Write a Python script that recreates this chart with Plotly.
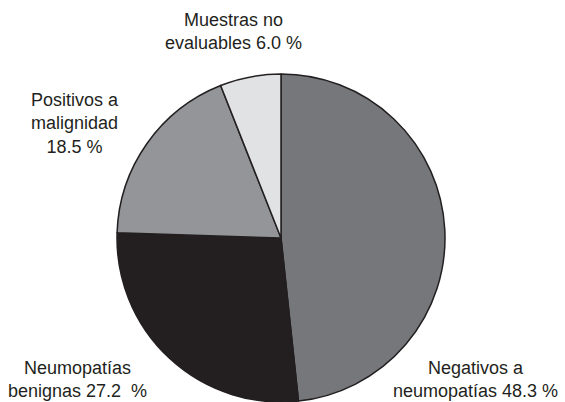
import plotly.graph_objects as go

# Diagnostic outcome shares (%)
categories = ["Negativos a neumopatías", "Neumopatías benignas",
              "Positivos a malignidad", "Muestras no evaluables"]
shares = [48.3, 27.2, 18.5, 6.0]
label_texts = [
    "Negativos a<br>neumopatías 48.3 %",
    "Neumopatías<br>benignas 27.2\u00a0\u00a0%",
    "Positivos a<br>malignidad<br>18.5 %",
    "Muestras no<br>evaluables 6.0 %",
]
slice_colors = ["#76777b", "#231f20", "#939598", "#e1e2e4"]

W, H = 565, 402

fig = go.Figure(
    go.Pie(
        labels=categories,
        values=shares,
        sort=False,
        direction="clockwise",
        rotation=0,
        marker=dict(colors=slice_colors, line=dict(color="#231f20", width=1.5)),
        textinfo="none",
        hoverinfo="label+value",
        showlegend=False,
        domain=dict(x=[117 / W, 445 / W], y=[0, 328 / H]),
    )
)

# Label placements (pixel centres converted to paper coordinates)
label_pos = [(475, 379), (77, 379), (75, 124), (233, 32)]
for txt, (px, py) in zip(label_texts, label_pos):
    fig.add_annotation(
        text=txt,
        x=px / W,
        y=1 - py / H,
        xref="paper",
        yref="paper",
        xanchor="center",
        yanchor="middle",
        align="center",
        showarrow=False,
        font=dict(family="Liberation Sans, Arial, sans-serif", size=18, color="#231f20"),
    )

fig.update_layout(
    width=W,
    height=H,
    margin=dict(l=0, r=0, t=0, b=0),
    paper_bgcolor="white",
    plot_bgcolor="white",
)

fig.write_html("out.html")
